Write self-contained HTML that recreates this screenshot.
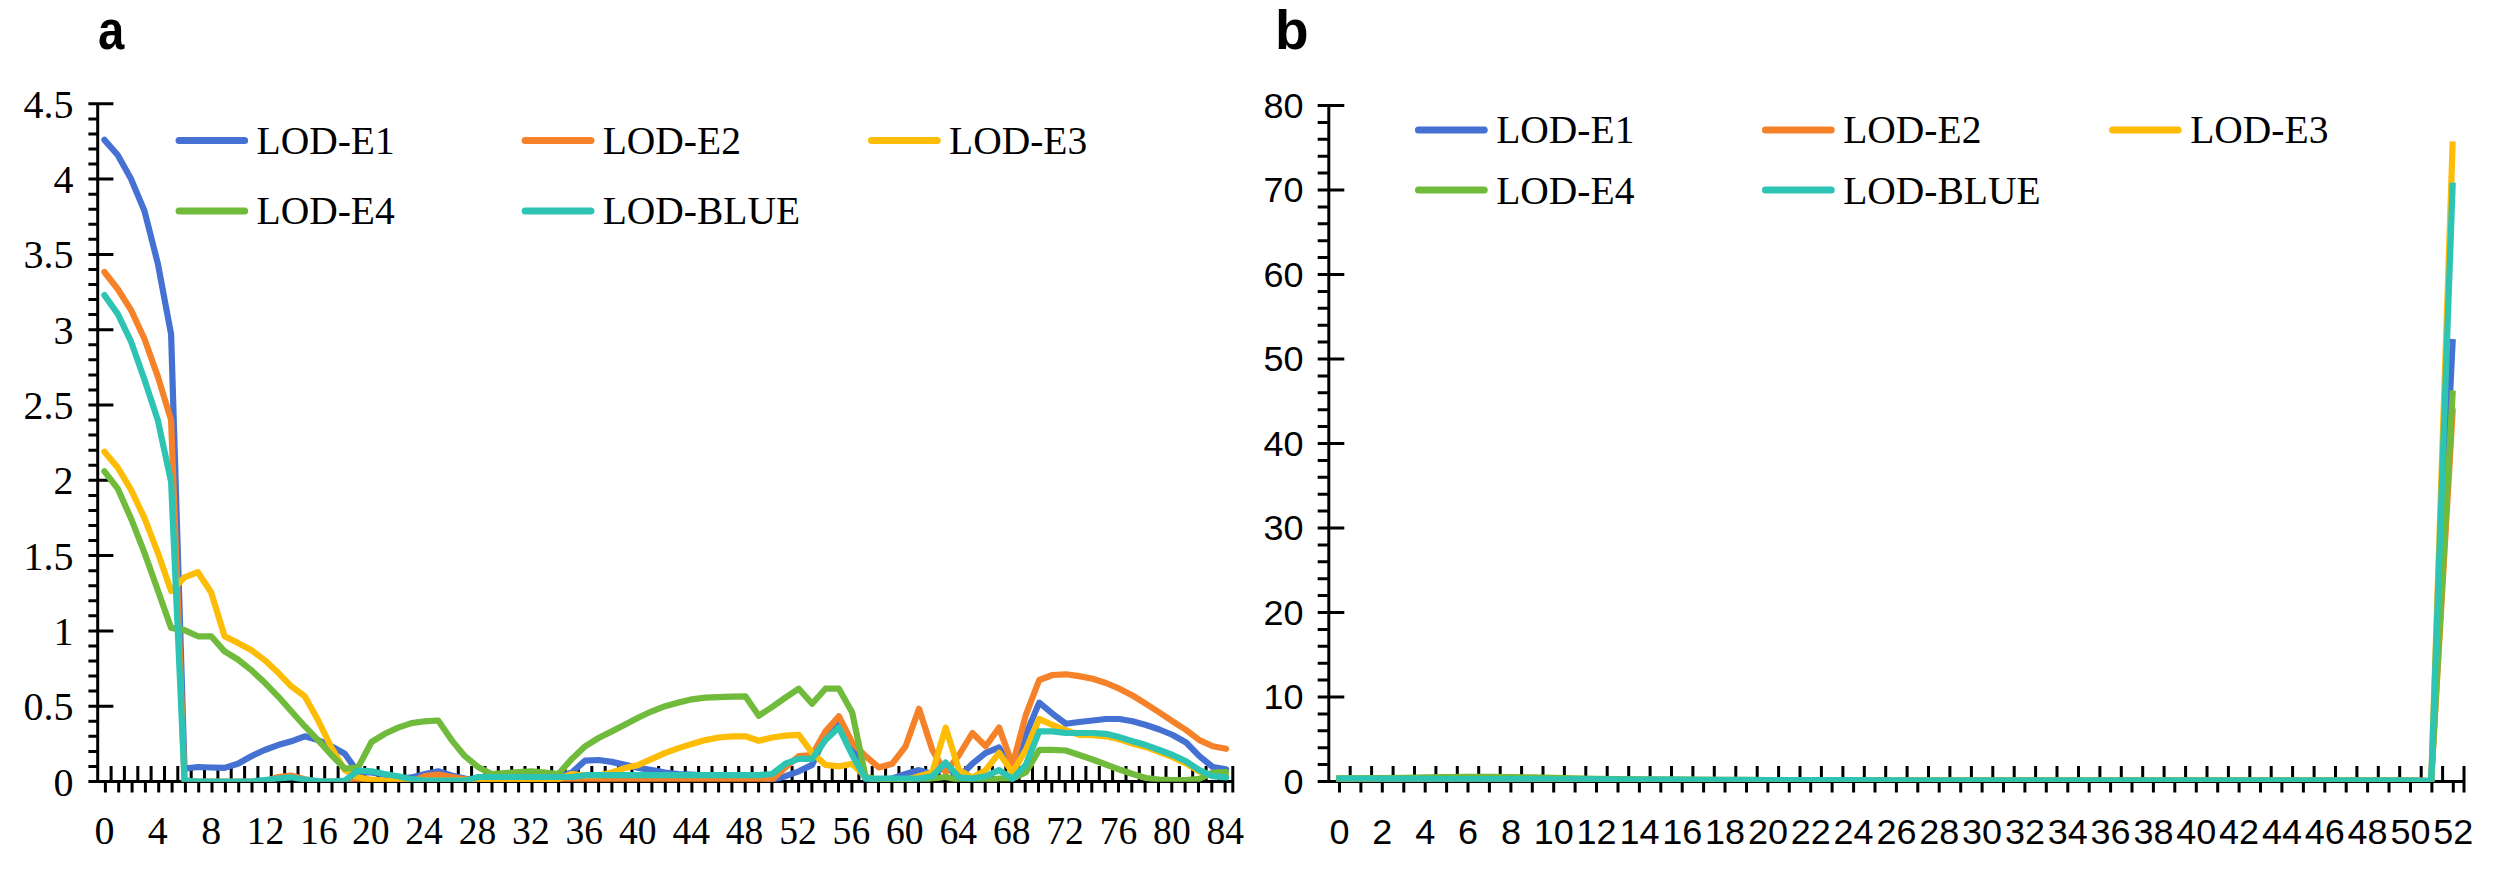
<!DOCTYPE html>
<html lang="en"><head><meta charset="utf-8"><title>LOD curves</title>
<style>html,body{margin:0;padding:0;background:#fff}svg{display:block}.serif{font-family:"Liberation Serif",serif;font-size:40px;fill:#000}.lg{font-size:39.5px}.sans{font-family:"Liberation Sans",sans-serif;font-size:35.3px;fill:#000}.panel{font-family:"Liberation Sans",sans-serif;font-weight:bold;font-size:55px;fill:#000}.ax{stroke:#000;stroke-width:3;fill:none;stroke-linecap:butt}.ln{fill:none;stroke-width:6.2;stroke-linejoin:round}</style></head><body>
<svg width="2500" height="881" viewBox="0 0 2500 881">
<rect width="2500" height="881" fill="#fff"/>
<defs><clipPath id="plot"><rect x="0" y="0" width="2500" height="781.7"/></clipPath></defs>
<g id="chart-a">
<text class="panel" transform="translate(97.9 49) scale(0.86 1)">a</text>
<path class="ax" d="M97.7 102.3V781.5M88.4 781.5H1234.3M88.4 766.4H97.7M88.4 751.4H97.7M88.4 736.3H97.7M88.4 721.3H97.7M88.4 706.2H113.4M88.4 691.1H97.7M88.4 676.1H97.7M88.4 661H97.7M88.4 646H97.7M88.4 630.9H113.4M88.4 615.8H97.7M88.4 600.8H97.7M88.4 585.7H97.7M88.4 570.7H97.7M88.4 555.6H113.4M88.4 540.5H97.7M88.4 525.5H97.7M88.4 510.4H97.7M88.4 495.4H97.7M88.4 480.3H113.4M88.4 465.2H97.7M88.4 450.2H97.7M88.4 435.1H97.7M88.4 420.1H97.7M88.4 405H113.4M88.4 389.9H97.7M88.4 374.9H97.7M88.4 359.8H97.7M88.4 344.8H97.7M88.4 329.7H113.4M88.4 314.6H97.7M88.4 299.6H97.7M88.4 284.5H97.7M88.4 269.5H97.7M88.4 254.4H113.4M88.4 239.3H97.7M88.4 224.3H97.7M88.4 209.2H97.7M88.4 194.2H97.7M88.4 179.1H113.4M88.4 164H97.7M88.4 149H97.7M88.4 133.9H97.7M88.4 118.9H97.7M88.4 103.8H113.4M111.1 766V781.5M124.4 766V781.5M137.8 766V781.5M151.1 766V781.5M164.5 766V781.5M177.8 766V781.5M191.2 766V781.5M204.5 766V781.5M217.9 766V781.5M231.2 766V781.5M244.6 766V781.5M257.9 766V781.5M271.3 766V781.5M284.7 766V781.5M298 766V781.5M311.4 766V781.5M324.7 766V781.5M338.1 766V781.5M351.4 766V781.5M364.8 766V781.5M378.1 766V781.5M391.5 766V781.5M404.8 766V781.5M418.2 766V781.5M431.6 766V781.5M444.9 766V781.5M458.3 766V781.5M471.6 766V781.5M485 766V781.5M498.3 766V781.5M511.7 766V781.5M525 766V781.5M538.4 766V781.5M551.7 766V781.5M565.1 766V781.5M578.4 766V781.5M591.8 766V781.5M605.2 766V781.5M618.5 766V781.5M631.9 766V781.5M645.2 766V781.5M658.6 766V781.5M671.9 766V781.5M685.3 766V781.5M698.6 766V781.5M712 766V781.5M725.3 766V781.5M738.7 766V781.5M752.1 766V781.5M765.4 766V781.5M778.8 766V781.5M792.1 766V781.5M805.5 766V781.5M818.8 766V781.5M832.2 766V781.5M845.5 766V781.5M858.9 766V781.5M872.2 766V781.5M885.6 766V781.5M898.9 766V781.5M912.3 766V781.5M925.7 766V781.5M939 766V781.5M952.4 766V781.5M965.7 766V781.5M979.1 766V781.5M992.4 766V781.5M1005.8 766V781.5M1019.1 766V781.5M1032.5 766V781.5M1045.8 766V781.5M1059.2 766V781.5M1072.6 766V781.5M1085.9 766V781.5M1099.3 766V781.5M1112.6 766V781.5M1126 766V781.5M1139.3 766V781.5M1152.7 766V781.5M1166 766V781.5M1179.4 766V781.5M1192.7 766V781.5M1206.1 766V781.5M1219.4 766V781.5M1232.8 766V792.4M105.4 781.5V792.4M118.7 781.5V792.4M132.1 781.5V792.4M145.4 781.5V792.4M158.7 781.5V792.4M172.1 781.5V792.4M185.4 781.5V792.4M198.7 781.5V792.4M212 781.5V792.4M225.4 781.5V792.4M238.7 781.5V792.4M252 781.5V792.4M265.4 781.5V792.4M278.7 781.5V792.4M292 781.5V792.4M305.4 781.5V792.4M318.7 781.5V792.4M332 781.5V792.4M345.3 781.5V792.4M358.7 781.5V792.4M372 781.5V792.4M385.3 781.5V792.4M398.7 781.5V792.4M412 781.5V792.4M425.3 781.5V792.4M438.6 781.5V792.4M452 781.5V792.4M465.3 781.5V792.4M478.6 781.5V792.4M492 781.5V792.4M505.3 781.5V792.4M518.6 781.5V792.4M532 781.5V792.4M545.3 781.5V792.4M558.6 781.5V792.4M572 781.5V792.4M585.3 781.5V792.4M598.6 781.5V792.4M611.9 781.5V792.4M625.3 781.5V792.4M638.6 781.5V792.4M651.9 781.5V792.4M665.3 781.5V792.4M678.6 781.5V792.4M691.9 781.5V792.4M705.2 781.5V792.4M718.6 781.5V792.4M731.9 781.5V792.4M745.2 781.5V792.4M758.6 781.5V792.4M771.9 781.5V792.4M785.2 781.5V792.4M798.6 781.5V792.4M811.9 781.5V792.4M825.2 781.5V792.4M838.5 781.5V792.4M851.9 781.5V792.4M865.2 781.5V792.4M878.5 781.5V792.4M891.9 781.5V792.4M905.2 781.5V792.4M918.5 781.5V792.4M931.9 781.5V792.4M945.2 781.5V792.4M958.5 781.5V792.4M971.9 781.5V792.4M985.2 781.5V792.4M998.5 781.5V792.4M1011.8 781.5V792.4M1025.2 781.5V792.4M1038.5 781.5V792.4M1051.8 781.5V792.4M1065.2 781.5V792.4M1078.5 781.5V792.4M1091.8 781.5V792.4M1105.2 781.5V792.4M1118.5 781.5V792.4M1131.8 781.5V792.4M1145.1 781.5V792.4M1158.5 781.5V792.4M1171.8 781.5V792.4M1185.1 781.5V792.4M1198.5 781.5V792.4M1211.8 781.5V792.4M1225.1 781.5V792.4"/>
<text class="serif" text-anchor="end" x="73.5" y="795.5">0</text>
<text class="serif" text-anchor="end" x="73.5" y="720.2">0.5</text>
<text class="serif" text-anchor="end" x="73.5" y="644.9">1</text>
<text class="serif" text-anchor="end" x="73.5" y="569.6">1.5</text>
<text class="serif" text-anchor="end" x="73.5" y="494.3">2</text>
<text class="serif" text-anchor="end" x="73.5" y="419">2.5</text>
<text class="serif" text-anchor="end" x="73.5" y="343.7">3</text>
<text class="serif" text-anchor="end" x="73.5" y="268.4">3.5</text>
<text class="serif" text-anchor="end" x="73.5" y="193.1">4</text>
<text class="serif" text-anchor="end" x="73.5" y="117.8">4.5</text>
<text class="serif" text-anchor="middle" x="104.4" y="844.4">0</text>
<text class="serif" text-anchor="middle" x="157.8" y="844.4">4</text>
<text class="serif" text-anchor="middle" x="211.2" y="844.4">8</text>
<text class="serif" text-anchor="middle" transform="translate(265.5 844.4) scale(0.94 1)">12</text>
<text class="serif" text-anchor="middle" transform="translate(318.9 844.4) scale(0.94 1)">16</text>
<text class="serif" text-anchor="middle" transform="translate(370.7 844.4) scale(0.94 1)">20</text>
<text class="serif" text-anchor="middle" transform="translate(424.1 844.4) scale(0.94 1)">24</text>
<text class="serif" text-anchor="middle" transform="translate(477.5 844.4) scale(0.94 1)">28</text>
<text class="serif" text-anchor="middle" transform="translate(530.9 844.4) scale(0.94 1)">32</text>
<text class="serif" text-anchor="middle" transform="translate(584.3 844.4) scale(0.94 1)">36</text>
<text class="serif" text-anchor="middle" transform="translate(637.7 844.4) scale(0.94 1)">40</text>
<text class="serif" text-anchor="middle" transform="translate(691.2 844.4) scale(0.94 1)">44</text>
<text class="serif" text-anchor="middle" transform="translate(744.6 844.4) scale(0.94 1)">48</text>
<text class="serif" text-anchor="middle" transform="translate(798 844.4) scale(0.94 1)">52</text>
<text class="serif" text-anchor="middle" transform="translate(851.4 844.4) scale(0.94 1)">56</text>
<text class="serif" text-anchor="middle" transform="translate(904.8 844.4) scale(0.94 1)">60</text>
<text class="serif" text-anchor="middle" transform="translate(958.2 844.4) scale(0.94 1)">64</text>
<text class="serif" text-anchor="middle" transform="translate(1011.7 844.4) scale(0.94 1)">68</text>
<text class="serif" text-anchor="middle" transform="translate(1065.1 844.4) scale(0.94 1)">72</text>
<text class="serif" text-anchor="middle" transform="translate(1118.5 844.4) scale(0.94 1)">76</text>
<text class="serif" text-anchor="middle" transform="translate(1171.9 844.4) scale(0.94 1)">80</text>
<text class="serif" text-anchor="middle" transform="translate(1225.3 844.4) scale(0.94 1)">84</text>
<g clip-path="url(#plot)">
<polyline class="ln" stroke-linecap="round" stroke="#4571D2" points="104.4,139.9 117.7,155 131.1,179.1 144.4,210.7 157.8,263.4 171.1,334.2 184.5,768.7 197.9,767 211.2,767.5 224.6,767.9 237.9,763.7 251.3,756.2 264.6,750 278,745.1 291.3,741.3 304.7,736.3 318,740.1 331.4,746.3 344.8,753.8 358.1,772.5 371.5,772.5 384.8,774.7 398.2,778.5 411.5,777.4 424.9,774 438.2,771.3 451.6,775.5 464.9,778.5 478.3,780.7 491.6,780.7 505,780.7 518.4,780.7 531.7,780.7 545.1,780.7 558.4,777 571.8,772.5 585.1,760.6 598.5,760 611.8,761.9 625.2,764.9 638.5,767.9 651.9,770.1 665.2,772.5 678.6,774 692,774.7 705.3,775.5 718.7,775.5 732,776.2 745.4,777 758.7,777 772.1,780 785.4,776.2 798.8,771.3 812.1,764.9 825.5,736.3 838.9,719.8 852.2,745.4 865.6,778.5 878.9,780 892.3,778.5 905.6,774 919,770.1 932.3,774 945.7,766.4 959,777 972.4,763.7 985.7,752.9 999.1,747.5 1012.5,770.1 1025.8,734.8 1039.2,702.6 1052.5,713.7 1065.9,723.8 1079.2,722 1092.6,720.5 1105.9,719 1119.3,719 1132.6,721.3 1146,725 1159.4,729.5 1172.7,735 1186.1,742.5 1199.4,756.2 1212.8,767 1226.1,769.3"/>
<polyline class="ln" stroke-linecap="round" stroke="#F58228" points="104.4,272 117.7,289 131.1,310.1 144.4,338.7 157.8,376.4 171.1,420.1 184.5,780.7 197.9,781.5 211.2,781.5 224.6,781.5 237.9,781.5 251.3,781.5 264.6,781.5 278,777 291.3,775.5 304.7,779.2 318,781.5 331.4,781.5 344.8,781.5 358.1,781.5 371.5,781.5 384.8,781.5 398.2,781.5 411.5,781.5 424.9,776.2 438.2,774.6 451.6,777 464.9,779.2 478.3,780.7 491.6,780.7 505,780.7 518.4,780.7 531.7,780.7 545.1,780.7 558.4,780.7 571.8,780.7 585.1,780.7 598.5,780.7 611.8,780.7 625.2,780.7 638.5,780.7 651.9,780.7 665.2,780.7 678.6,780.7 692,780.7 705.3,780.7 718.7,780.7 732,780.7 745.4,780.7 758.7,780.7 772.1,779.7 785.4,767.5 798.8,756.2 812.1,755 825.5,731.4 838.9,716.3 852.2,742.5 865.6,756.2 878.9,767.5 892.3,763.7 905.6,746.3 919,708.8 932.3,750 945.7,772.5 959,755 972.4,733 985.7,746.3 999.1,727.6 1012.5,764.9 1025.8,715.2 1039.2,680 1052.5,675 1065.9,674.3 1079.2,676.1 1092.6,678.8 1105.9,683 1119.3,688.7 1132.6,695.5 1146,703.8 1159.4,712.5 1172.7,721.3 1186.1,730 1199.4,740.1 1212.8,746.3 1226.1,748.8"/>
<polyline class="ln" stroke-linecap="round" stroke="#FDBC06" points="104.4,451.7 117.7,467.5 131.1,489.9 144.4,517.9 157.8,552.6 171.1,591 184.5,577.4 197.9,572.2 211.2,592.5 224.6,636.3 237.9,642.9 251.3,650 264.6,660.1 278,672.6 291.3,686.3 304.7,696.3 318,720.1 331.4,747.5 344.8,770.1 358.1,777.4 371.5,779.7 384.8,780.7 398.2,780.7 411.5,780.7 424.9,780.7 438.2,780.7 451.6,780.7 464.9,780.7 478.3,780.7 491.6,780.7 505,780.7 518.4,780.7 531.7,780.7 545.1,780.7 558.4,779.2 571.8,774 585.1,775.5 598.5,775.5 611.8,772.5 625.2,767.9 638.5,764.9 651.9,758.9 665.2,752.9 678.6,748.1 692,743.9 705.3,740.1 718.7,737.5 732,736.3 745.4,736.3 758.7,740.8 772.1,737.5 785.4,735.6 798.8,734.8 812.1,752.9 825.5,764.9 838.9,766.4 852.2,763.7 865.6,777 878.9,780 892.3,780 905.6,780 919,776.2 932.3,772.5 945.7,727.6 959,770.1 972.4,777.4 985.7,770.1 999.1,752.9 1012.5,772.5 1025.8,749.9 1039.2,718.9 1052.5,725 1065.9,730.3 1079.2,734.8 1092.6,735.1 1105.9,736.3 1119.3,739.3 1132.6,743.5 1146,747.2 1159.4,752.1 1172.7,757.1 1186.1,763.4 1199.4,771.6 1212.8,775.2 1226.1,776.2"/>
<polyline class="ln" stroke-linecap="round" stroke="#70BB3C" points="104.4,471.3 117.7,488.6 131.1,518.7 144.4,552.6 157.8,590.2 171.1,627.9 184.5,630.1 197.9,636.3 211.2,636.3 224.6,651.4 237.9,659.5 251.3,670.1 264.6,682.6 278,696.3 291.3,711.3 304.7,726.2 318,740.1 331.4,755 344.8,768.7 358.1,767.5 371.5,742 384.8,733.8 398.2,727.6 411.5,723.1 424.9,721.3 438.2,720.5 451.6,740.1 464.9,756.2 478.3,767.2 491.6,774 505,773.1 518.4,772 531.7,771.3 545.1,772.5 558.4,774 571.8,758.9 585.1,746.3 598.5,738 611.8,731.4 625.2,724.6 638.5,717.5 651.9,711.3 665.2,706.2 678.6,702.6 692,699.3 705.3,697.6 718.7,697.2 732,696.6 745.4,696.3 758.7,715.8 772.1,707 785.4,697.6 798.8,688.7 812.1,703.8 825.5,688.7 838.9,688.7 852.2,712.5 865.6,777 878.9,780 892.3,780 905.6,780 919,780 932.3,778.5 945.7,777 959,780 972.4,780 985.7,780 999.1,778.5 1012.5,778.5 1025.8,772.5 1039.2,749.9 1052.5,749.9 1065.9,750.5 1079.2,755 1092.6,759.5 1105.9,764.5 1119.3,769.5 1132.6,774 1146,778 1159.4,779.5 1172.7,780 1186.1,780 1199.4,778.8 1212.8,772.5 1226.1,772"/>
<polyline class="ln" stroke-linecap="round" stroke="#2DC4B4" points="104.4,295.1 117.7,313.9 131.1,341.7 144.4,379.4 157.8,420.1 171.1,481.8 184.5,780.7 197.9,781.5 211.2,781.5 224.6,781.5 237.9,781.5 251.3,781.5 264.6,780 278,778.5 291.3,777.3 304.7,779.7 318,781 331.4,781.5 344.8,780.7 358.1,770.5 371.5,771.3 384.8,774 398.2,776.2 411.5,779.2 424.9,780.7 438.2,780.7 451.6,780.7 464.9,780.7 478.3,777 491.6,777 505,777 518.4,777 531.7,777 545.1,777 558.4,777 571.8,777 585.1,775.2 598.5,775.2 611.8,775.2 625.2,775.2 638.5,775.2 651.9,775.2 665.2,775.2 678.6,775.2 692,775.2 705.3,775.2 718.7,775.2 732,775.2 745.4,775.2 758.7,775.2 772.1,774 785.4,763.7 798.8,758.9 812.1,758.9 825.5,740.1 838.9,727.6 852.2,755 865.6,778.8 878.9,778.5 892.3,778.5 905.6,778.5 919,778.5 932.3,776.2 945.7,762.5 959,777.4 972.4,778.5 985.7,776.2 999.1,770.1 1012.5,778.8 1025.8,764.9 1039.2,731.4 1052.5,731.4 1065.9,733 1079.2,733 1092.6,733 1105.9,733.8 1119.3,737.1 1132.6,741.3 1146,745.1 1159.4,750 1172.7,755 1186.1,761.3 1199.4,770.1 1212.8,776.2 1226.1,777.4"/>
</g>
<line x1="179.1" y1="140.5" x2="244.6" y2="140.5" stroke="#4571D2" stroke-width="7.1" stroke-linecap="round"/>
<text class="serif lg" x="256.5" y="154">LOD-E1</text>
<line x1="525.2" y1="140.5" x2="590.9" y2="140.5" stroke="#F58228" stroke-width="7.1" stroke-linecap="round"/>
<text class="serif lg" x="602.7" y="154">LOD-E2</text>
<line x1="871.5" y1="140.5" x2="937.2" y2="140.5" stroke="#FDBC06" stroke-width="7.1" stroke-linecap="round"/>
<text class="serif lg" x="949" y="154">LOD-E3</text>
<line x1="179.1" y1="211" x2="244.6" y2="211" stroke="#70BB3C" stroke-width="7.1" stroke-linecap="round"/>
<text class="serif lg" x="256.5" y="224.3">LOD-E4</text>
<line x1="525.2" y1="211" x2="590.9" y2="211" stroke="#2DC4B4" stroke-width="7.1" stroke-linecap="round"/>
<text class="serif lg" x="602.7" y="224.3">LOD-BLUE</text>
</g>
<g id="chart-b">
<text class="panel" x="1275" y="49">b</text>
<path class="ax" d="M1328.8 104V781.5M1317.7 781.5H2465.5M1317.7 764.6H1328.8M1317.7 747.7H1328.8M1317.7 730.8H1328.8M1317.7 713.9H1328.8M1317.7 697H1344.3M1317.7 680.1H1328.8M1317.7 663.2H1328.8M1317.7 646.3H1328.8M1317.7 629.4H1328.8M1317.7 612.5H1344.3M1317.7 595.6H1328.8M1317.7 578.7H1328.8M1317.7 561.8H1328.8M1317.7 544.9H1328.8M1317.7 528H1344.3M1317.7 511.1H1328.8M1317.7 494.2H1328.8M1317.7 477.3H1328.8M1317.7 460.4H1328.8M1317.7 443.5H1344.3M1317.7 426.6H1328.8M1317.7 409.7H1328.8M1317.7 392.8H1328.8M1317.7 375.9H1328.8M1317.7 359H1344.3M1317.7 342.1H1328.8M1317.7 325.2H1328.8M1317.7 308.3H1328.8M1317.7 291.4H1328.8M1317.7 274.5H1344.3M1317.7 257.6H1328.8M1317.7 240.7H1328.8M1317.7 223.8H1328.8M1317.7 206.9H1328.8M1317.7 190H1344.3M1317.7 173.1H1328.8M1317.7 156.2H1328.8M1317.7 139.3H1328.8M1317.7 122.4H1328.8M1317.7 105.5H1344.3M1350.2 766V781.5M1371.6 766V781.5M1393.1 766V781.5M1414.5 766V781.5M1435.9 766V781.5M1457.3 766V781.5M1478.7 766V781.5M1500.2 766V781.5M1521.6 766V781.5M1543 766V781.5M1564.4 766V781.5M1585.8 766V781.5M1607.2 766V781.5M1628.7 766V781.5M1650.1 766V781.5M1671.5 766V781.5M1692.9 766V781.5M1714.3 766V781.5M1735.8 766V781.5M1757.2 766V781.5M1778.6 766V781.5M1800 766V781.5M1821.4 766V781.5M1842.9 766V781.5M1864.3 766V781.5M1885.7 766V781.5M1907.1 766V781.5M1928.5 766V781.5M1949.9 766V781.5M1971.4 766V781.5M1992.8 766V781.5M2014.2 766V781.5M2035.6 766V781.5M2057 766V781.5M2078.5 766V781.5M2099.9 766V781.5M2121.3 766V781.5M2142.7 766V781.5M2164.1 766V781.5M2185.6 766V781.5M2207 766V781.5M2228.4 766V781.5M2249.8 766V781.5M2271.2 766V781.5M2292.6 766V781.5M2314.1 766V781.5M2335.5 766V781.5M2356.9 766V781.5M2378.3 766V781.5M2399.7 766V781.5M2421.2 766V781.5M2442.6 766V781.5M2464 766V792.4M1339.5 781.5V792.4M1360.9 781.5V792.4M1382.3 781.5V792.4M1403.8 781.5V792.4M1425.2 781.5V792.4M1446.6 781.5V792.4M1468 781.5V792.4M1489.4 781.5V792.4M1510.9 781.5V792.4M1532.3 781.5V792.4M1553.7 781.5V792.4M1575.1 781.5V792.4M1596.5 781.5V792.4M1618 781.5V792.4M1639.4 781.5V792.4M1660.8 781.5V792.4M1682.2 781.5V792.4M1703.6 781.5V792.4M1725 781.5V792.4M1746.5 781.5V792.4M1767.9 781.5V792.4M1789.3 781.5V792.4M1810.7 781.5V792.4M1832.1 781.5V792.4M1853.6 781.5V792.4M1875 781.5V792.4M1896.4 781.5V792.4M1917.8 781.5V792.4M1939.2 781.5V792.4M1960.7 781.5V792.4M1982.1 781.5V792.4M2003.5 781.5V792.4M2024.9 781.5V792.4M2046.3 781.5V792.4M2067.8 781.5V792.4M2089.2 781.5V792.4M2110.6 781.5V792.4M2132 781.5V792.4M2153.4 781.5V792.4M2174.8 781.5V792.4M2196.3 781.5V792.4M2217.7 781.5V792.4M2239.1 781.5V792.4M2260.5 781.5V792.4M2281.9 781.5V792.4M2303.4 781.5V792.4M2324.8 781.5V792.4M2346.2 781.5V792.4M2367.6 781.5V792.4M2389 781.5V792.4M2410.5 781.5V792.4M2431.9 781.5V792.4M2453.3 781.5V792.4"/>
<text class="sans" text-anchor="end" transform="translate(1303.6 793.8) scale(1.02 1)">0</text>
<text class="sans" text-anchor="end" transform="translate(1303.6 709.3) scale(1.02 1)">10</text>
<text class="sans" text-anchor="end" transform="translate(1303.6 624.8) scale(1.02 1)">20</text>
<text class="sans" text-anchor="end" transform="translate(1303.6 540.3) scale(1.02 1)">30</text>
<text class="sans" text-anchor="end" transform="translate(1303.6 455.8) scale(1.02 1)">40</text>
<text class="sans" text-anchor="end" transform="translate(1303.6 371.3) scale(1.02 1)">50</text>
<text class="sans" text-anchor="end" transform="translate(1303.6 286.8) scale(1.02 1)">60</text>
<text class="sans" text-anchor="end" transform="translate(1303.6 202.3) scale(1.02 1)">70</text>
<text class="sans" text-anchor="end" transform="translate(1303.6 117.8) scale(1.02 1)">80</text>
<text class="sans" text-anchor="middle" transform="translate(1339.5 844.4) scale(1.02 1)">0</text>
<text class="sans" text-anchor="middle" transform="translate(1382.3 844.4) scale(1.02 1)">2</text>
<text class="sans" text-anchor="middle" transform="translate(1425.2 844.4) scale(1.02 1)">4</text>
<text class="sans" text-anchor="middle" transform="translate(1468 844.4) scale(1.02 1)">6</text>
<text class="sans" text-anchor="middle" transform="translate(1510.9 844.4) scale(1.02 1)">8</text>
<text class="sans" text-anchor="middle" transform="translate(1553.7 844.4) scale(1.02 1)">10</text>
<text class="sans" text-anchor="middle" transform="translate(1596.5 844.4) scale(1.02 1)">12</text>
<text class="sans" text-anchor="middle" transform="translate(1639.4 844.4) scale(1.02 1)">14</text>
<text class="sans" text-anchor="middle" transform="translate(1682.2 844.4) scale(1.02 1)">16</text>
<text class="sans" text-anchor="middle" transform="translate(1725 844.4) scale(1.02 1)">18</text>
<text class="sans" text-anchor="middle" transform="translate(1767.9 844.4) scale(1.02 1)">20</text>
<text class="sans" text-anchor="middle" transform="translate(1810.7 844.4) scale(1.02 1)">22</text>
<text class="sans" text-anchor="middle" transform="translate(1853.6 844.4) scale(1.02 1)">24</text>
<text class="sans" text-anchor="middle" transform="translate(1896.4 844.4) scale(1.02 1)">26</text>
<text class="sans" text-anchor="middle" transform="translate(1939.2 844.4) scale(1.02 1)">28</text>
<text class="sans" text-anchor="middle" transform="translate(1982.1 844.4) scale(1.02 1)">30</text>
<text class="sans" text-anchor="middle" transform="translate(2024.9 844.4) scale(1.02 1)">32</text>
<text class="sans" text-anchor="middle" transform="translate(2067.8 844.4) scale(1.02 1)">34</text>
<text class="sans" text-anchor="middle" transform="translate(2110.6 844.4) scale(1.02 1)">36</text>
<text class="sans" text-anchor="middle" transform="translate(2153.4 844.4) scale(1.02 1)">38</text>
<text class="sans" text-anchor="middle" transform="translate(2196.3 844.4) scale(1.02 1)">40</text>
<text class="sans" text-anchor="middle" transform="translate(2239.1 844.4) scale(1.02 1)">42</text>
<text class="sans" text-anchor="middle" transform="translate(2281.9 844.4) scale(1.02 1)">44</text>
<text class="sans" text-anchor="middle" transform="translate(2324.8 844.4) scale(1.02 1)">46</text>
<text class="sans" text-anchor="middle" transform="translate(2367.6 844.4) scale(1.02 1)">48</text>
<text class="sans" text-anchor="middle" transform="translate(2410.5 844.4) scale(1.02 1)">50</text>
<text class="sans" text-anchor="middle" transform="translate(2453.3 844.4) scale(1.02 1)">52</text>
<g clip-path="url(#plot)">
<polyline class="ln" stroke-linecap="square" stroke="#4571D2" points="1339.5,779 1360.9,779 1382.3,779.1 1403.7,779.2 1425.1,779.2 1446.5,779.3 1467.9,779.4 1489.3,779.4 1510.7,779.5 1532.1,779.6 1553.6,779.6 1575,779.7 1596.4,779.8 1617.8,779.8 1639.2,779.9 1660.6,780 1682,780 1703.4,780.1 1724.8,780.2 1746.2,780.2 1767.6,780.3 1789,780.4 1810.4,780.5 1831.8,780.5 1853.2,780.6 1874.6,780.7 1896,780.7 1917.4,780.7 1938.8,780.7 1960.2,780.7 1981.7,780.7 2003.1,780.7 2024.5,780.7 2045.9,780.7 2067.3,780.7 2088.7,780.7 2110.1,780.7 2131.5,780.7 2152.9,780.7 2174.3,780.7 2195.7,780.7 2217.1,780.7 2238.5,780.7 2259.9,780.7 2281.3,780.7 2302.7,780.7 2324.1,780.7 2345.5,780.7 2366.9,780.7 2388.3,780.7 2409.8,780.7 2431.2,781.1 2452.6,342.1"/>
<polyline class="ln" stroke-linecap="square" stroke="#F58228" points="1339.5,779 1360.9,779 1382.3,779.1 1403.7,779.2 1425.1,779.2 1446.5,779.3 1467.9,779.4 1489.3,779.4 1510.7,779.5 1532.1,779.6 1553.6,779.6 1575,779.7 1596.4,779.8 1617.8,779.8 1639.2,779.9 1660.6,780 1682,780 1703.4,780.1 1724.8,780.2 1746.2,780.2 1767.6,780.3 1789,780.4 1810.4,780.5 1831.8,780.5 1853.2,780.6 1874.6,780.7 1896,780.7 1917.4,780.7 1938.8,780.7 1960.2,780.7 1981.7,780.7 2003.1,780.7 2024.5,780.7 2045.9,780.7 2067.3,780.7 2088.7,780.7 2110.1,780.7 2131.5,780.7 2152.9,780.7 2174.3,780.7 2195.7,780.7 2217.1,780.7 2238.5,780.7 2259.9,780.7 2281.3,780.7 2302.7,780.7 2324.1,780.7 2345.5,780.7 2366.9,780.7 2388.3,780.7 2409.8,780.7 2431.2,781.1 2452.6,411.4"/>
<polyline class="ln" stroke-linecap="square" stroke="#FDBC06" points="1339.5,778.4 1360.9,778.3 1382.3,778.2 1403.7,778.1 1425.1,778 1446.5,777.9 1467.9,777.9 1489.3,778 1510.7,778.3 1532.1,778.6 1553.6,778.8 1575,779.1 1596.4,779.3 1617.8,779.4 1639.2,779.5 1660.6,779.6 1682,779.7 1703.4,779.8 1724.8,779.8 1746.2,779.9 1767.6,780 1789,780.1 1810.4,780.1 1831.8,780.2 1853.2,780.3 1874.6,780.4 1896,780.4 1917.4,780.5 1938.8,780.6 1960.2,780.7 1981.7,780.7 2003.1,780.7 2024.5,780.7 2045.9,780.7 2067.3,780.7 2088.7,780.7 2110.1,780.7 2131.5,780.7 2152.9,780.7 2174.3,780.7 2195.7,780.7 2217.1,780.7 2238.5,780.7 2259.9,780.7 2281.3,780.7 2302.7,780.7 2324.1,780.7 2345.5,780.7 2366.9,780.7 2388.3,780.7 2409.8,780.7 2431.2,781.1 2452.6,144.4"/>
<polyline class="ln" stroke-linecap="square" stroke="#70BB3C" points="1339.5,778.4 1360.9,778.3 1382.3,778.1 1403.7,777.8 1425.1,777.4 1446.5,777.1 1467.9,776.8 1489.3,776.8 1510.7,777 1532.1,777.4 1553.6,777.9 1575,778.4 1596.4,778.9 1617.8,779.2 1639.2,779.5 1660.6,779.7 1682,779.8 1703.4,779.9 1724.8,780 1746.2,780.1 1767.6,780.1 1789,780.2 1810.4,780.3 1831.8,780.4 1853.2,780.5 1874.6,780.5 1896,780.6 1917.4,780.7 1938.8,780.7 1960.2,780.7 1981.7,780.7 2003.1,780.7 2024.5,780.7 2045.9,780.7 2067.3,780.7 2088.7,780.7 2110.1,780.7 2131.5,780.7 2152.9,780.7 2174.3,780.7 2195.7,780.7 2217.1,780.7 2238.5,780.7 2259.9,780.7 2281.3,780.7 2302.7,780.7 2324.1,780.7 2345.5,780.7 2366.9,780.7 2388.3,780.7 2409.8,780.7 2431.2,781.1 2452.6,393.6"/>
<polyline class="ln" stroke-linecap="square" stroke="#2DC4B4" points="1339.5,778.6 1360.9,778.7 1382.3,778.8 1403.7,778.8 1425.1,778.9 1446.5,779 1467.9,779 1489.3,779.1 1510.7,779.2 1532.1,779.2 1553.6,779.3 1575,779.4 1596.4,779.4 1617.8,779.5 1639.2,779.6 1660.6,779.6 1682,779.7 1703.4,779.8 1724.8,779.8 1746.2,779.9 1767.6,780 1789,780 1810.4,780.1 1831.8,780.2 1853.2,780.2 1874.6,780.3 1896,780.4 1917.4,780.5 1938.8,780.5 1960.2,780.5 1981.7,780.5 2003.1,780.5 2024.5,780.5 2045.9,780.5 2067.3,780.5 2088.7,780.5 2110.1,780.5 2131.5,780.5 2152.9,780.5 2174.3,780.5 2195.7,780.5 2217.1,780.5 2238.5,780.5 2259.9,780.5 2281.3,780.5 2302.7,780.5 2324.1,780.5 2345.5,780.5 2366.9,780.5 2388.3,780.5 2409.8,780.5 2431.2,781.1 2452.6,185.8"/>
</g>
<line x1="1418.5" y1="130" x2="1484.2" y2="130" stroke="#4571D2" stroke-width="7.1" stroke-linecap="round"/>
<text class="serif lg" x="1496.2" y="143">LOD-E1</text>
<line x1="1765.5" y1="130" x2="1831.2" y2="130" stroke="#F58228" stroke-width="7.1" stroke-linecap="round"/>
<text class="serif lg" x="1843.2" y="143">LOD-E2</text>
<line x1="2112.6" y1="130" x2="2178.1" y2="130" stroke="#FDBC06" stroke-width="7.1" stroke-linecap="round"/>
<text class="serif lg" x="2190.2" y="143">LOD-E3</text>
<line x1="1418.5" y1="190" x2="1484.2" y2="190" stroke="#70BB3C" stroke-width="7.1" stroke-linecap="round"/>
<text class="serif lg" x="1496.2" y="204.2">LOD-E4</text>
<line x1="1765.5" y1="190" x2="1831.2" y2="190" stroke="#2DC4B4" stroke-width="7.1" stroke-linecap="round"/>
<text class="serif lg" x="1843.2" y="204.2">LOD-BLUE</text>
</g>
</svg></body></html>
